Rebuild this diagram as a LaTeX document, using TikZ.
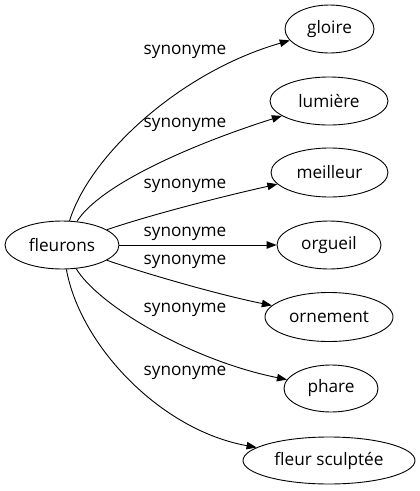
\documentclass[tikz,border=0pt]{standalone}
\usepackage{fontspec}
\setmainfont{Open Sans}
\usetikzlibrary{shapes.geometric,arrows.meta}
\begin{document}
\begin{tikzpicture}[x=1pt,y=-1pt,
  word/.style={draw,ellipse,line width=0.9pt,inner sep=0pt,font=\fontsize{17.2}{19}\selectfont},
  lab/.style={font=\fontsize{17.2}{19}\selectfont,inner sep=0pt},
  edge/.style={line width=0.9pt,-{Triangle[length=10pt,width=7.5pt]}}]
\useasboundingbox (0,0) rectangle (420,491);
\node[word,minimum width=114pt,minimum height=48pt] (f) at (62,245) {fleurons};
\node[word,minimum width=89pt,minimum height=48pt] (g1) at (329.5,29) {gloire};
\node[word,minimum width=118pt,minimum height=48pt] (g2) at (329,101) {lumière};
\node[word,minimum width=117pt,minimum height=49pt] (g3) at (329.5,172.5) {meilleur};
\node[word,minimum width=104pt,minimum height=48pt] (g4) at (329,245) {orgueil};
\node[word,minimum width=128pt,minimum height=49pt] (g5) at (329,317) {ornement};
\node[word,minimum width=94pt,minimum height=47pt] (g6) at (331,388.5) {phare};
\node[word,minimum width=172pt,minimum height=47pt] (g7) at (329,460.5) {fleur sculptée};
\node[lab] (l1) at (185,52) {synonyme};
\node[lab] (l2) at (185,125) {synonyme};
\node[lab] (l3) at (185,186) {synonyme};
\node[lab] (l4) at (185,234) {synonyme};
\node[lab] (l5) at (185,262) {synonyme};
\node[lab] (l6) at (185,310) {synonyme};
\node[lab] (l7) at (185,373) {synonyme};
\draw[edge] (f) .. controls (90,155) and (180,72) .. (g1);
\draw[edge] (f) .. controls (100,185) and (190,145) .. (g2);
\draw[edge] (f) .. controls (150,215) and (220,197) .. (g3);
\draw[edge] (f) -- (g4);
\draw[edge] (f) .. controls (150,275) and (220,295) .. (g5);
\draw[edge] (f) .. controls (98,305) and (190,360) .. (g6);
\draw[edge] (f) .. controls (80,345) and (160,430) .. (g7);
\end{tikzpicture}
\end{document}
